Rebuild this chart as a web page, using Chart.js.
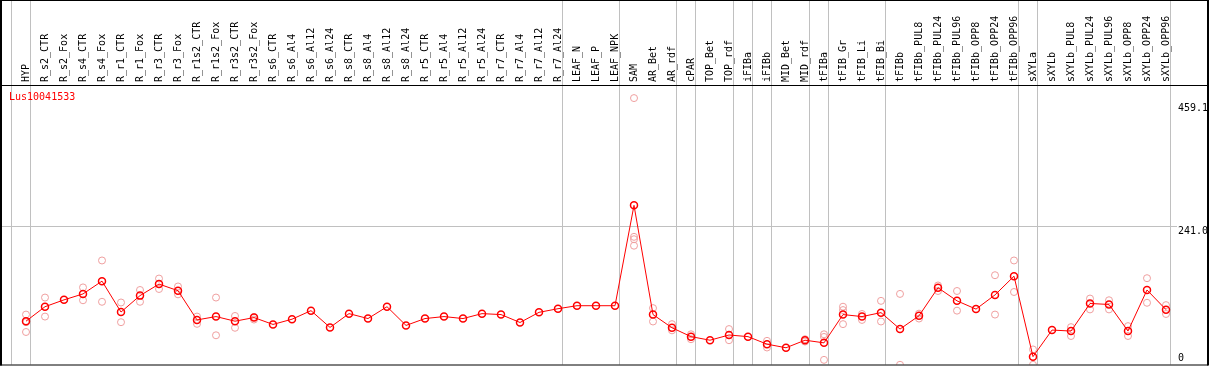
<!DOCTYPE html>
<html>
<head>
<meta charset="utf-8">
<script src="https://cdn.jsdelivr.net/npm/chart.js@4.4.1/dist/chart.umd.min.js"></script>
<style>
  html, body { margin: 0; padding: 0; background: #fff; }
</style>
</head>
<body>
<canvas id="chart" width="1209" height="370"></canvas>
<script>
const geneName = 'Lus10041533';

const categories = [
  'HYP',
  'R_s2_CTR', 'R_s2_Fox', 'R_s4_CTR', 'R_s4_Fox', 'R_r1_CTR', 'R_r1_Fox', 'R_r3_CTR', 'R_r3_Fox',
  'R_r1s2_CTR', 'R_r1s2_Fox', 'R_r3s2_CTR', 'R_r3s2_Fox',
  'R_s6_CTR', 'R_s6_Al4', 'R_s6_Al12', 'R_s6_Al24', 'R_s8_CTR', 'R_s8_Al4', 'R_s8_Al12', 'R_s8_Al24',
  'R_r5_CTR', 'R_r5_Al4', 'R_r5_Al12', 'R_r5_Al24', 'R_r7_CTR', 'R_r7_Al4', 'R_r7_Al12', 'R_r7_Al24',
  'LEAF_N', 'LEAF_P', 'LEAF_NPK',
  'SAM', 'AR_Bet', 'AR_rdf',
  'cPAR',
  'TOP_Bet', 'TOP_rdf',
  'iFIBa',
  'iFIBb',
  'MID_Bet', 'MID_rdf',
  'tFIBa',
  'tFIB_Gr', 'tFIB_Li', 'tFIB_Bi',
  'tFIBb', 'tFIBb_PUL8', 'tFIBb_PUL24', 'tFIBb_PUL96', 'tFIBb_OPP8', 'tFIBb_OPP24', 'tFIBb_OPP96',
  'sXYLa',
  'sXYLb', 'sXYLb_PUL8', 'sXYLb_PUL24', 'sXYLb_PUL96', 'sXYLb_OPP8', 'sXYLb_OPP24', 'sXYLb_OPP96'
];

// number of categories in each tissue group (separators drawn after each)
const groupSizes = [1, 28, 3, 3, 1, 2, 1, 1, 2, 1, 3, 7, 1, 7];

const meanValues = [
  78.8,
  103.5, 115.2, 125.3, 147.1, 94.4, 122.4, 142.1, 130.8,
  81.0, 86.7, 78.8, 85.0,
  73.3, 82.2, 96.8, 68.2, 91.7, 83.3, 103.5, 71.6,
  83.3, 86.7, 83.3, 91.7, 90.1, 76.6, 93.9, 100.1,
  105.2, 105.2, 105.2,
  276.3, 90.1, 67.6,
  52.5,
  46.4, 55.3,
  52.5,
  39.7,
  33.5, 46.4,
  41.9,
  90.1, 86.7, 93.4,
  65.4, 88.0, 135.8, 113.5, 99.4, 123.6, 155.5,
  18.4,
  63.7, 62.0, 109.0, 107.3, 62.0, 132.0, 98.4
];

// replicate samples
const rep1 = [
  90.1,
  119.1, null, 136.4, 182.3, 110.7, 132.0, 151.5, 138.0,
  86.7, 119.1, 87.7, 86.0,
  null, null, null, null, null, null, null, null,
  null, null, null, null, null, null, null, null,
  null, null, null,
  459.1, 101.1, 73.8,
  56.5,
  null, 65.4,
  null,
  45.3,
  null, 48.1,
  56.5,
  103.5, 91.1, 113.5,
  125.3, 91.7, 139.7, 130.3, null, 157.2, 182.3,
  30.7,
  null, 68.7, 117.4, 114.5, 70.4, 152.1, 106.2
];
const rep2 = [
  60.4,
  86.7, null, 114.5, 111.9, 77.1, 111.9, 133.7, 124.6,
  74.3, 54.8, 67.6, 81.6,
  null, null, null, null, null, null, null, null,
  null, null, null, null, null, null, null, null,
  null, null, null,
  207.5, 78.3, 63.2,
  48.1,
  null, 46.4,
  null,
  34.0,
  null, 44.1,
  12.9,
  73.8, 81.0, 78.3,
  4.5, 83.3, 130.3, 96.8, null, 90.1, 128.6,
  4.5,
  null, 53.6, 98.9, 98.9, 53.6, 110.2, 91.1
];
const rep3 = [
  77.1,
  null, null, null, null, null, null, null, null,
  null, null, null, null,
  null, null, null, null, null, null, null, null,
  null, null, null, null, null, null, null, null,
  null, null, null,
  222.6, null, null,
  null,
  null, null,
  null,
  null,
  null, null,
  52.0,
  97.8, null, null,
  null, null, null, null, null, null, null,
  null,
  null, null, null, null, null, null, null
];
const rep4 = categories.map(c => (c === 'SAM' ? 218.5 : null));

const yTicks = [459.1, 241.0, 0];

const clipOpt = {left: false, top: false, right: false, bottom: 0};

const framePlugin = {
  id: 'frame',
  beforeDraw(chart) {
    const {ctx, chartArea, scales: {x, y}} = chart;
    const step = x.getPixelForValue(1) - x.getPixelForValue(0);
    ctx.save();
    ctx.fillStyle = '#fff';
    ctx.fillRect(0, 0, chart.width, chart.height);
    ctx.strokeStyle = '#c0c0c0';
    ctx.lineWidth = 1;
    // grid line at middle tick
    const gy = Math.round(y.getPixelForValue(yTicks[1])) + 0.5;
    ctx.beginPath();
    ctx.moveTo(1, gy);
    ctx.lineTo(1177, gy);
    ctx.stroke();
    // group separators
    let end = -1;
    const ends = [end];
    groupSizes.forEach(n => { end += n; ends.push(end); });
    ends.forEach(i => {
      const gx = Math.floor(x.getPixelForValue(i) + step / 4) + 0.5;
      ctx.beginPath();
      ctx.moveTo(gx, 0);
      ctx.lineTo(gx, chartArea.bottom);
      ctx.stroke();
    });
    ctx.restore();
  },
  afterDraw(chart) {
    const {ctx, chartArea, scales: {y}} = chart;
    ctx.save();
    ctx.strokeStyle = '#000';
    ctx.lineWidth = 1;
    ctx.beginPath();
    ctx.moveTo(0, 0.5); ctx.lineTo(1208, 0.5);
    ctx.moveTo(0, chartArea.top + 0.5); ctx.lineTo(1208, chartArea.top + 0.5);
    ctx.moveTo(0, chartArea.bottom + 0.5); ctx.lineTo(1208, chartArea.bottom + 0.5);
    ctx.stroke();
    ctx.lineWidth = 2;
    ctx.beginPath();
    ctx.moveTo(1, 0); ctx.lineTo(1, chartArea.bottom + 1);
    ctx.moveTo(1208, 0); ctx.lineTo(1208, chartArea.bottom + 1);
    ctx.stroke();

    ctx.font = '10px "DejaVu Sans Mono"';
    ctx.textBaseline = 'top';
    ctx.textAlign = 'left';
    ctx.fillStyle = '#000';
    yTicks.forEach(v => {
      const label = v === 0 ? '0' : v.toFixed(1);
      let py = y.getPixelForValue(v);
      py = Math.min(Math.max(py, chartArea.top + 18), chartArea.bottom - 11);
      ctx.fillText(label, 1178, py);
    });

    ctx.fillStyle = '#ff0000';
    ctx.textBaseline = 'alphabetic';
    ctx.fillText(geneName, 9, chartArea.top + 15);
    ctx.restore();
  }
};

const repSet = data => ({
  data: data,
  showLine: false,
  pointRadius: 3.5,
  pointBorderWidth: 1,
  pointBorderColor: '#f0a0a0',
  pointBackgroundColor: 'rgba(0,0,0,0)',
  clip: clipOpt
});

new Chart(document.getElementById('chart'), {
  type: 'line',
  data: {
    labels: categories,
    datasets: [
      {
        data: meanValues,
        borderColor: '#ff0000',
        borderWidth: 1,
        pointRadius: 3.5,
        pointBorderWidth: 1.5,
        pointBorderColor: '#ff0000',
        pointBackgroundColor: 'rgba(0,0,0,0)',
        fill: false,
        tension: 0,
        clip: clipOpt
      },
      repSet(rep1),
      repSet(rep2),
      repSet(rep3),
      repSet(rep4)
    ]
  },
  options: {
    responsive: false,
    animation: false,
    devicePixelRatio: 1,
    layout: {padding: {left: 26, right: 43, top: 0, bottom: 1}},
    plugins: {legend: {display: false}, tooltip: {enabled: false}},
    scales: {
      x: {
        position: 'top',
        offset: false,
        grid: {display: false, drawTicks: false},
        border: {display: false},
        ticks: {
          autoSkip: false,
          minRotation: 90,
          maxRotation: 90,
          padding: 3,
          labelOffset: 12,
          color: '#000',
          font: {family: 'DejaVu Sans Mono', size: 10}
        },
        afterFit(scale) { scale.height = 85; }
      },
      y: {display: false, min: 5, max: 481.4}
    }
  },
  plugins: [framePlugin]
});
</script>
</body>
</html>
